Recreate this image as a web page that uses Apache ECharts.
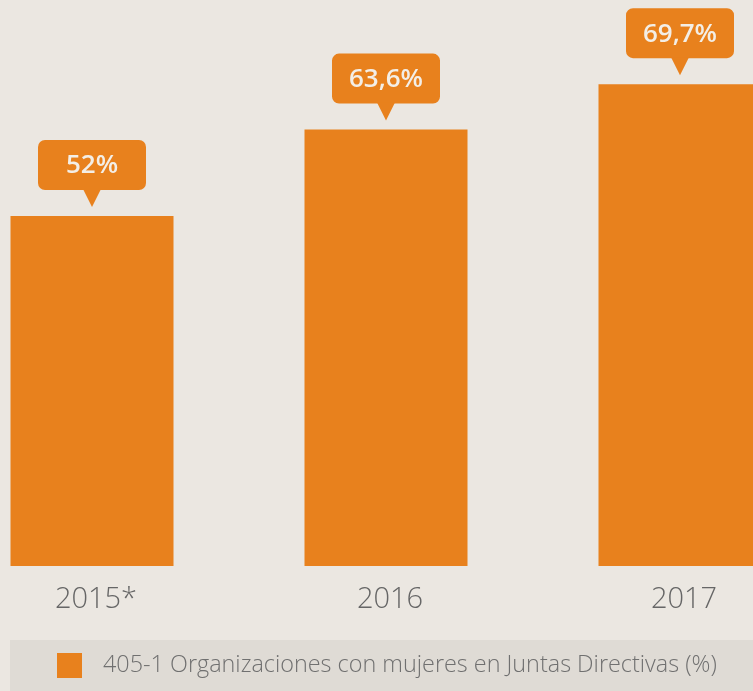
<!DOCTYPE html>
<html>
<head>
<meta charset="utf-8">
<script src="https://cdn.jsdelivr.net/npm/echarts@6/dist/echarts.min.js"></script>
<style>
  html, body { margin: 0; padding: 0; background: #ebe7e1; overflow: hidden; }
  /* el lienzo es más ancho que la ventana: la 3ª barra queda cortada */
  #chart { position: absolute; left: -55px; top: 0; width: 882px; height: 691px; }
</style>
</head>
<body>
<div id="chart"></div>
<script>
// años
var years = ['2015*', '2016', '2017']
// % organizaciones con mujeres en juntas directivas
var values = [52, 63.6, 69.7]
var seriesName = '405-1 Organizaciones con mujeres en Juntas Directivas (%)'

var orange = '#e8811d'

var chart = echarts.init(document.getElementById('chart'))

// globo con el valor encima de cada barra
function renderBubble(params, api) {
  var p = api.coord([api.value(0), api.value(1)])
  var tipY = p[1] - 9
  var boxH = 50
  var boxW = 108
  var triH = 17
  var boxBottom = tipY - triH
  var txt = String(api.value(1)).replace('.', ',') + '%'
  return {
    type: 'group',
    children: [
      {
        type: 'rect',
        shape: { x: p[0] - boxW / 2, y: boxBottom - boxH, width: boxW, height: boxH, r: 7 },
        style: { fill: orange }
      },
      {
        type: 'polygon',
        shape: { points: [[p[0] - 9, boxBottom - 1], [p[0] + 9, boxBottom - 1], [p[0], tipY]] },
        style: { fill: orange }
      },
      {
        type: 'text',
        x: p[0],
        y: boxBottom - boxH / 2 + 1,
        style: {
          text: txt,
          fill: '#f3eee6',
          font: '600 26px "Open Sans", sans-serif',
          align: 'center',
          verticalAlign: 'middle'
        }
      }
    ]
  }
}

chart.setOption({
  backgroundColor: '#ebe7e1',
  animation: false,
  grid: {
    left: 0,
    right: 0,
    top: 0,
    bottom: 125
  },
  legend: {
    left: 65,
    bottom: 0,
    itemWidth: 25,
    itemHeight: 25,
    backgroundColor: '#dfdbd5',
    padding: [13, 200, 13, 47],
    icon: 'rect',
    textStyle: {
      color: '#707070',
      fontSize: 23.4,
      fontWeight: 300,
      fontFamily: 'Open Sans',
      padding: [0, 0, 0, 16]
    },
    data: [seriesName]
  },
  xAxis: {
    type: 'category',
    data: years,
    axisLine: { show: false },
    axisTick: { show: false },
    axisLabel: {
      margin: 19,
      color: '#666666',
      fontSize: 29,
      fontWeight: 300,
      fontFamily: 'Open Sans',
      padding: [0, 0, 0, 8]
    }
  },
  yAxis: {
    type: 'value',
    min: 5,
    max: 81,
    show: false,
    splitLine: { show: false }
  },
  series: [
    {
      name: seriesName,
      type: 'bar',
      barWidth: 163,
      itemStyle: { color: orange },
      data: values
    },
    {
      type: 'custom',
      renderItem: renderBubble,
      encode: { x: 0, y: 1 },
      z: 5,
      data: values.map(function (v, i) { return [i, v] })
    }
  ]
})
</script>
</body>
</html>
